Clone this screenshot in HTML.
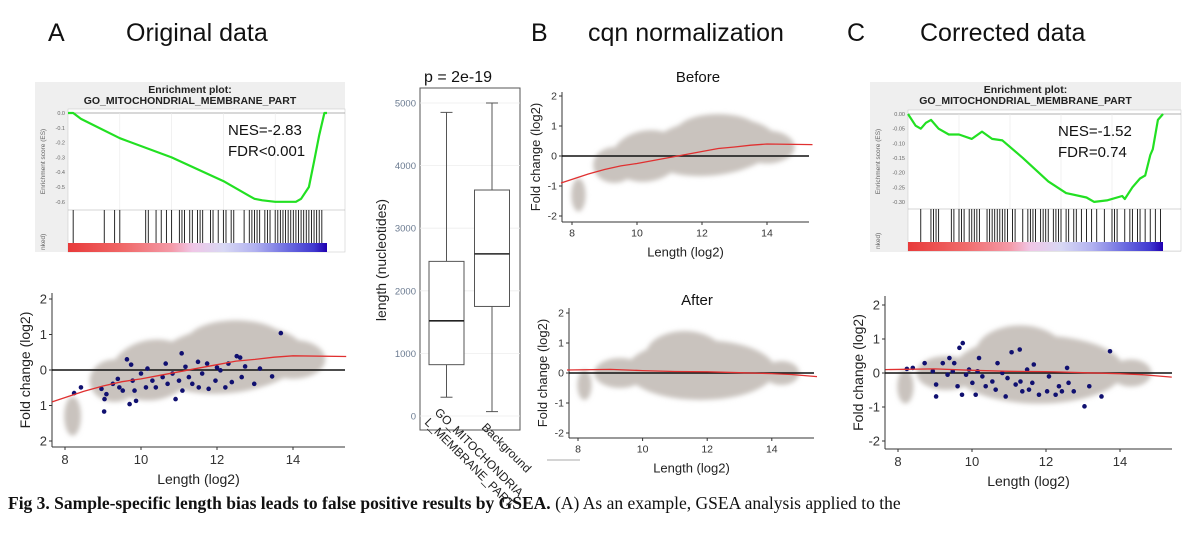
<!DOCTYPE html>
<html><head><meta charset="utf-8"><style>
html,body{margin:0;padding:0;background:#fff;}
svg{display:block;font-family:"Liberation Sans",sans-serif;}
</style></head><body>
<svg id="fig" width="1200" height="540" viewBox="0 0 1200 540" xmlns="http://www.w3.org/2000/svg">
<defs>
<filter id="blur" x="-20%" y="-20%" width="140%" height="140%"><feGaussianBlur stdDeviation="2.5"/></filter>
<linearGradient id="rank" x1="0" x2="1" y1="0" y2="0">
<stop offset="0" stop-color="#e83a3a"/><stop offset="0.22" stop-color="#f06a6a"/><stop offset="0.4" stop-color="#f49aa8"/><stop offset="0.48" stop-color="#f0c6e6"/><stop offset="0.6" stop-color="#d8d8f4"/><stop offset="0.72" stop-color="#b2b2f0"/><stop offset="0.85" stop-color="#6a6ae0"/><stop offset="0.95" stop-color="#4038d0"/><stop offset="1" stop-color="#2000b0"/>
</linearGradient>
</defs>
<g font-size="25" fill="#111">
<text x="48" y="41">A</text>
<text x="126" y="41">Original data</text>
<text x="531" y="41">B</text>
<text x="588" y="41">cqn normalization</text>
<text x="847" y="41">C</text>
<text x="920" y="41">Corrected data</text>
</g>
<text x="8" y="509" font-family="Liberation Serif,serif" font-size="17.5" fill="#111"><tspan font-weight="bold">Fig 3. Sample-specific length bias leads to false positive results by GSEA.</tspan> (A) As an example, GSEA analysis applied to the</text>
<line x1="547" y1="460" x2="580" y2="460" stroke="#aaa" stroke-width="1"/>
<g id="root"></g>
</svg>
<script>
// ---------- data ----------
const esRankA = [0,0.02,0.05,0.2,0.4,0.6,0.7,0.72,0.75,0.8,0.85,0.88,0.9,0.93,0.95,0.97,0.99,1];
const esValA  = [0,0,-0.04,-0.17,-0.3,-0.46,-0.56,-0.58,-0.59,-0.6,-0.6,-0.6,-0.58,-0.5,-0.33,-0.15,0,0];
const esRankC = [0,0.03,0.05,0.07,0.09,0.12,0.16,0.2,0.25,0.29,0.33,0.37,0.45,0.55,0.62,0.7,0.73,0.78,0.84,0.85,0.88,0.91,0.93,0.95,0.96,0.98,1];
const esValC  = [0,-0.04,-0.05,-0.03,-0.02,-0.05,-0.07,-0.07,-0.085,-0.06,-0.085,-0.09,-0.15,-0.23,-0.27,-0.285,-0.3,-0.295,-0.28,-0.29,-0.25,-0.22,-0.21,-0.14,-0.12,-0.02,0];
const hitsA = [0.02,0.14,0.18,0.2,0.3,0.31,0.34,0.36,0.38,0.4,0.43,0.44,0.45,0.47,0.48,0.5,0.51,0.52,0.55,0.56,0.58,0.6,0.61,0.63,0.64,0.68,0.7,0.71,0.72,0.73,0.74,0.76,0.77,0.78,0.8,0.81,0.82,0.83,0.84,0.85,0.86,0.87,0.88,0.89,0.9,0.91,0.92,0.93,0.94,0.95,0.96,0.97,0.98];
const hitsC = [0.05,0.09,0.1,0.11,0.12,0.17,0.18,0.2,0.21,0.22,0.24,0.25,0.26,0.27,0.28,0.31,0.32,0.33,0.34,0.35,0.36,0.37,0.38,0.39,0.41,0.42,0.45,0.47,0.48,0.49,0.5,0.52,0.53,0.54,0.55,0.57,0.58,0.59,0.6,0.62,0.63,0.65,0.66,0.68,0.7,0.72,0.74,0.77,0.8,0.81,0.82,0.85,0.87,0.88,0.9,0.91,0.93,0.95,0.97,0.99];
const esTicksA = [0,-0.1,-0.2,-0.3,-0.4,-0.5,-0.6];
const esTickLabelsA = ["0.0","-0.1","-0.2","-0.3","-0.4","-0.5","-0.6"];
const esTicksC = [0,-0.05,-0.1,-0.15,-0.2,-0.25,-0.3];
const esTickLabelsC = ["0.00","-0.05","-0.10","-0.15","-0.20","-0.25","-0.30"];

const loessBiasX = [7.66,8.5,9,9.5,10,10.5,11,11.5,12,12.5,13,13.5,14,15.4];
const loessBiasY = [-0.9,-0.6,-0.45,-0.33,-0.25,-0.15,-0.05,0.05,0.15,0.25,0.3,0.36,0.4,0.38];
const loessFlatX = [7.66,9,10,11,12,13,14,14.6,15.4];
const loessFlatY = [0.1,0.12,0.08,0.05,0.04,0.01,-0.02,-0.05,-0.12];

const blueAx = [8.24,8.42,8.96,9.04,9.03,9.09,9.26,9.39,9.43,9.52,9.63,9.7,9.74,9.78,9.83,9.87,10,10.13,10.17,10.3,10.39,10.57,10.65,10.7,10.83,10.91,11,11.07,11.09,11.17,11.26,11.35,11.5,11.52,11.61,11.74,11.78,11.96,12,12.09,12.22,12.3,12.39,12.52,12.61,12.65,12.74,12.98,13.13,13.45,13.68];
const blueAy = [-0.65,-0.49,-0.53,-0.82,-1.17,-0.68,-0.39,-0.25,-0.49,-0.58,0.3,-0.96,0.15,-0.3,-0.58,-0.87,-0.1,-0.49,0.04,-0.3,-0.49,-0.2,0.18,-0.39,-0.1,-0.82,-0.3,0.47,-0.58,0.09,-0.2,-0.39,0.23,-0.49,-0.1,0.18,-0.53,-0.3,0.07,-0.01,-0.49,0.18,-0.34,0.39,0.35,-0.2,0.1,-0.39,0.04,-0.18,1.04];
const blueCx = [8.24,8.4,8.72,8.94,9.03,9.03,9.21,9.34,9.39,9.48,9.52,9.61,9.66,9.73,9.75,9.84,9.92,10.01,10.1,10.15,10.19,10.28,10.37,10.55,10.64,10.69,10.82,10.91,10.96,11.07,11.18,11.29,11.31,11.36,11.49,11.54,11.63,11.67,11.81,12.03,12.08,12.26,12.35,12.43,12.57,12.61,12.75,13.04,13.17,13.5,13.73];
const blueCy = [0.12,0.15,0.29,0.05,-0.34,-0.69,0.29,-0.05,0.44,0.05,0.29,-0.39,0.74,-0.64,0.88,-0.05,0.1,-0.29,-0.64,0.05,0.44,-0.1,-0.39,-0.25,-0.49,0.29,0,-0.69,-0.15,0.61,-0.34,0.69,-0.25,-0.54,0.1,-0.49,-0.29,0.25,-0.64,-0.54,-0.1,-0.64,-0.39,-0.54,0.15,-0.29,-0.54,-0.98,-0.39,-0.69,0.64];

const boxCategories = ["GO_MITOCHONDRIAL_MEMBRANE_PART","Background"];
const boxLow = [300,70];
const boxQ1 = [820,1750];
const boxMedian = [1520,2590];
const boxQ3 = [2470,3610];
const boxHigh = [4850,5000];
const boxTicks = [0,1000,2000,3000,4000,5000];

// ---------- helpers ----------
const NS="http://www.w3.org/2000/svg";
const root=document.getElementById('root');
function mk(tag,attrs,parent,text){const e=document.createElementNS(NS,tag);for(const k in attrs)e.setAttribute(k,attrs[k]);if(text!==undefined)e.textContent=text;(parent||root).appendChild(e);return e;}

// ---------- enrichment plots ----------
function enrichment(c){
  const g=mk('g',{});
  
  
  mk('rect',{x:c.bx,y:82,width:c.bw,height:170,fill:'#efefef'},g);
  mk('rect',{x:c.px0,y:c.zeroY-4,width:c.bx+c.bw-c.px0,height:c.hitBottom-(c.zeroY-4),fill:'#fff',stroke:'#ccc','stroke-width':0.6},g);
  const t1=mk('text',{x:c.bx+c.bw/2,y:93,'text-anchor':'middle','font-size':10.5,'font-weight':'bold',fill:'#222'},g,'Enrichment plot:');
  
  
  mk('text',{x:c.bx+c.bw/2,y:104,'text-anchor':'middle','font-size':10.5,'font-weight':'bold',fill:'#222'},g,'GO_MITOCHONDRIAL_MEMBRANE_PART');
  const ys=v=>c.zeroY-v*c.ysc, xs=r=>c.px0+r*(c.px1-c.px0);
  mk('line',{x1:c.px0,x2:c.bx+c.bw,y1:c.zeroY,y2:c.zeroY,stroke:'#999','stroke-width':0.7},g);
  [0.2,0.4,0.6,0.8].forEach(f=>mk('line',{x1:xs(f),x2:xs(f),y1:c.zeroY,y2:c.hitTop,stroke:'#e8e8e8','stroke-width':0.6},g));
  c.ticks.forEach((v,i)=>{mk('text',{x:c.px0-3,y:ys(v)+2,'text-anchor':'end','font-size':5.5,fill:'#666'},g,c.tickLabels[i]);});
  const yl=mk('text',{transform:`translate(${c.bx+10},${(c.zeroY+c.hitTop)/2}) rotate(-90)`,'text-anchor':'middle','font-size':6.5,fill:'#666'},g,'Enrichment score (ES)');
  
  
  mk('text',{transform:`translate(${c.bx+10},${c.hitBottom-2}) rotate(-90)`,'font-size':6.5,fill:'#666'},g,'nked)');
  mk('line',{x1:c.px0,x2:c.bx+c.bw,y1:c.hitTop,y2:c.hitTop,stroke:'#aaa','stroke-width':0.6},g);
  c.hits.forEach(h=>{const l=mk('line',{x1:xs(h),x2:xs(h),y1:c.hitTop,y2:c.hitBottom-9,stroke:'#111','stroke-width':0.9},g);
    
    });
  const cb=mk('rect',{x:c.px0,y:c.hitBottom-9,width:c.px1-c.px0,height:9,fill:'url(#rank)'},g);
  
  
  const d=c.rank.map((r,i)=>(i?'L':'M')+xs(r).toFixed(1)+','+ys(c.vals[i]).toFixed(1)).join('');
  const p=mk('path',{d:d,fill:'none',stroke:'#22e022','stroke-width':2.2,'stroke-linejoin':'round'},g);
  
  
  const n=mk('text',{x:c.nx,y:c.zeroY+22,'font-size':15,fill:'#111'},g,c.nes);
  
  
  const f=mk('text',{x:c.nx,y:c.zeroY+43,'font-size':15,fill:'#111'},g,c.fdr);
  
  
}
enrichment({name:'enrichment-plot-a',bx:35,bw:310,px0:68,px1:327,zeroY:113,ysc:148,hitTop:210,hitBottom:252,ticks:esTicksA,tickLabels:esTickLabelsA,rank:esRankA,vals:esValA,hits:hitsA,nes:'NES=-2.83',fdr:'FDR<0.001',nx:228});
enrichment({name:'enrichment-plot-c',bx:870,bw:311,px0:908,px1:1163,zeroY:114,ysc:293,hitTop:209,hitBottom:251,ticks:esTicksC,tickLabels:esTickLabelsC,rank:esRankC,vals:esValC,hits:hitsC,nes:'NES=-1.52',fdr:'FDR=0.74',nx:1058});

// ---------- scatter plots ----------
function scatter(c){
  const g=mk('g',{});
  
  
  const X=v=>c.x8+(v-8)*c.xs, Y=v=>c.y0-v*c.ys;
  const cg=mk('g',{filter:'url(#blur)',fill:'#c9c3be'},g);
  
  
  c.cloud.forEach(e=>mk('ellipse',{cx:X(e[0]),cy:Y(e[1]),rx:e[2]*c.xs,ry:e[3]*c.ys,transform:`rotate(${e[4]||0} ${X(e[0])} ${Y(e[1])})`},cg));
  mk('line',{x1:c.left,x2:c.left,y1:c.top,y2:c.bottom,stroke:'#333','stroke-width':1},g);
  mk('line',{x1:c.left,x2:c.right,y1:c.bottom,y2:c.bottom,stroke:'#333','stroke-width':1},g);
  const z=mk('line',{x1:c.left,x2:c.right,y1:Y(0),y2:Y(0),stroke:'#111','stroke-width':1.6},g);
  
  
  [2,1,0,-1,-2].forEach((v,i)=>{mk('line',{x1:c.left-3,x2:c.left,y1:Y(v),y2:Y(v),stroke:'#333'},g);
    mk('text',{x:c.left-5,y:Y(v)+c.fs*0.35,'text-anchor':'end','font-size':c.fs,fill:'#333'},g,c.yLabels[i]);});
  [8,10,12,14].forEach(v=>{mk('line',{x1:X(v),x2:X(v),y1:c.bottom,y2:c.bottom+3,stroke:'#333'},g);
    mk('text',{x:X(v),y:c.bottom+c.fs+4,'text-anchor':'middle','font-size':c.fs,fill:'#333'},g,String(v));});
  const xt=mk('text',{x:(c.left+c.right)/2,y:c.bottom+c.fs+24,'text-anchor':'middle','font-size':c.tfs,fill:'#222'},g,'Length (log2)');
  
  
  const yt=mk('text',{transform:`translate(${c.left-22},${(c.top+c.bottom)/2}) rotate(-90)`,'text-anchor':'middle','font-size':c.tfs,fill:'#222'},g,'Fold change (log2)');
  
  
  if(c.bx){c.bx.forEach((v,i)=>{const d=mk('circle',{cx:X(v),cy:Y(c.by[i]),r:2.3,fill:'#101070'},g);
    
    });}
  const d=c.lx.map((v,i)=>(i?'L':'M')+X(v).toFixed(1)+','+Y(c.ly[i]).toFixed(1)).join('');
  const p=mk('path',{d:d,fill:'none',stroke:'#e03030','stroke-width':1.3},g);
  
  
  if(c.title){const t=mk('text',{x:c.tx,y:c.ty,'text-anchor':'middle','font-size':15,fill:'#111'},g,c.title);
    
    }
}
const cloudBias=[[12.3,0.3,2.0,0.95,-6],[12.5,0.8,1.3,0.6,0],[10.3,0,1.1,0.85,-10],[9.3,-0.3,0.65,0.6,0],[8.2,-1.3,0.22,0.55,0],[14,0.3,0.85,0.55,0]];
const cloudFlat=[[11.8,0.1,2.3,1.0,0],[11.3,0.6,1.2,0.8,0],[9.3,0,0.8,0.5,0],[8.2,-0.4,0.22,0.5,0],[14.3,0,0.55,0.4,0]];
scatter({name:'scatter-original',x8:65,xs:38,y0:370,ys:35.5,left:52,right:345,top:293,bottom:447,fs:13,tfs:14,yLabels:['2','1','0','1','2'],cloud:cloudBias,lx:loessBiasX,ly:loessBiasY,bx:blueAx,by:blueAy});
scatter({name:'scatter-before',x8:572,xs:32.5,y0:156,ys:30,left:562,right:809,top:92,bottom:222,fs:10.5,tfs:13,yLabels:['2','1','0','-1','-2'],cloud:cloudBias,lx:loessBiasX,ly:loessBiasY,title:'Before',tx:698,ty:82});
scatter({name:'scatter-after',x8:578,xs:32.3,y0:373,ys:30,left:569,right:814,top:308,bottom:438,fs:10.5,tfs:13,yLabels:['2','1','0','-1','-2'],cloud:cloudFlat,lx:loessFlatX,ly:loessFlatY,title:'After',tx:697,ty:305});
scatter({name:'scatter-corrected',x8:898,xs:37,y0:373,ys:34,left:885,right:1172,top:296,bottom:449,fs:13,tfs:14,yLabels:['2','1','0','-1','-2'],cloud:cloudFlat,lx:loessFlatX,ly:loessFlatY,bx:blueCx,by:blueCy});

// ---------- box plot ----------
(function(){
  const g=mk('g',{});
  
  
  const Y=v=>416-v*0.0626;
  const cx=[446.5,492];
  mk('rect',{x:420,y:88,width:100,height:342,fill:'#fff',stroke:'#555','stroke-width':1},g);
  boxTicks.forEach(v=>{mk('line',{x1:420,x2:520,y1:Y(v),y2:Y(v),stroke:'#eee','stroke-width':0.8},g);
    mk('text',{x:416,y:Y(v)+3.5,'text-anchor':'end','font-size':9.5,fill:'#6a7a90'},g,String(v));});
  boxCategories.forEach((cat,i)=>{
    const b=mk('g',{},g);
    
    
    mk('line',{x1:cx[i],x2:cx[i],y1:Y(boxLow[i]),y2:Y(boxHigh[i]),stroke:'#555'},b);
    mk('line',{x1:cx[i]-6,x2:cx[i]+6,y1:Y(boxLow[i]),y2:Y(boxLow[i]),stroke:'#555'},b);
    mk('line',{x1:cx[i]-6,x2:cx[i]+6,y1:Y(boxHigh[i]),y2:Y(boxHigh[i]),stroke:'#555'},b);
    mk('rect',{x:cx[i]-17.5,y:Y(boxQ3[i]),width:35,height:Y(boxQ1[i])-Y(boxQ3[i]),fill:'#fff',stroke:'#555'},b);
    mk('line',{x1:cx[i]-17.5,x2:cx[i]+17.5,y1:Y(boxMedian[i]),y2:Y(boxMedian[i]),stroke:'#222','stroke-width':1.6},b);
  });
  mk('text',{transform:'translate(434,413) rotate(45)','font-size':12,fill:'#222'},g,'GO_MITOCHONDRIA');
  mk('text',{transform:'translate(424,423) rotate(45)','font-size':12,fill:'#222'},g,'L_MEMBRANE_PART');
  mk('text',{transform:'translate(481,428) rotate(45)','font-size':12,fill:'#222'},g,'Background');
  const yt=mk('text',{transform:'translate(386,260) rotate(-90)','text-anchor':'middle','font-size':14,fill:'#222'},g,'length (nucleotides)');
  
  
  const pt=mk('text',{x:424,y:82,'font-size':16,fill:'#111'},g,'p = 2e-19');
  
  
})();
</script>
</body></html>
